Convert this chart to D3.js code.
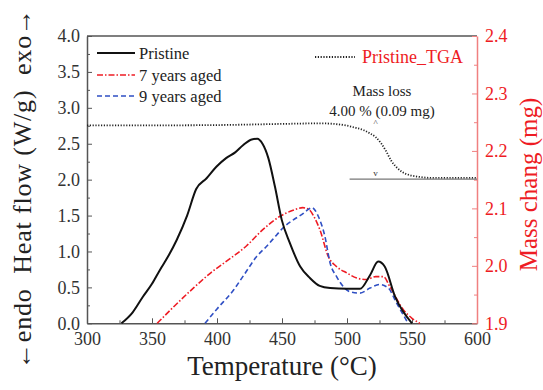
<!DOCTYPE html>
<html><head><meta charset="utf-8">
<script src="https://cdn.jsdelivr.net/npm/d3@7"></script>
<style>
body{margin:0;background:#fff;}
svg text{font-family:'Liberation Serif','Times New Roman','DejaVu Serif',serif !important;}
</style></head>
<body>
<svg id="c" width="543" height="390"></svg>
<script>
// ---- data ----
const pristineT = [326.5,335,343,350,356,363,369,377,384,392,399.5,407,414,420,426.7,431,435,439.5,444.6,449.8,456,464,471.5,479,487,500,510,517.7,524,529,537,550];
const pristineV = [0,0.15,0.37,0.55,0.74,0.95,1.16,1.5,1.87,2.02,2.18,2.30,2.38,2.48,2.56,2.57,2.5,2.3,1.9,1.44,1.12,0.79,0.63,0.52,0.49,0.48,0.48,0.67,0.86,0.79,0.37,0];
const aged7T = [354,365,381.8,395,410,422.8,435,448.5,458,466,471,475,479.2,485.6,492,500,507.5,515,522,528,533,543.3,550,556];
const aged7V = [0,0.2,0.49,0.7,0.9,1.08,1.3,1.49,1.57,1.61,1.58,1.47,1.30,0.93,0.79,0.70,0.63,0.61,0.65,0.65,0.51,0.19,0.07,0];
const aged9T = [390.8,400,412.6,421,430.5,438,445.9,452,458.7,466.4,470.5,473,477.9,483,487,492,502.3,510,517.7,525,531.8,538.2,547];
const aged9V = [0,0.2,0.46,0.68,0.93,1.07,1.23,1.35,1.44,1.53,1.59,1.61,1.49,1.21,0.84,0.65,0.44,0.42,0.49,0.54,0.49,0.28,0];
const tgaT = [300,350,400,450,480,490,500,507,513,518,522,526,530,534,538,542,548,555,565,600];
const tgaM = [2.2445,2.2445,2.245,2.247,2.248,2.247,2.244,2.240,2.236,2.230,2.224,2.214,2.200,2.183,2.172,2.164,2.158,2.155,2.153,2.153];
const massLossLineT = [502,600];
const massLossLevel = 2.151;
const markerT = 522;
const markerM = [2.247, 2.156];
const xTicks = [300,350,400,450,500,550,600];
const yTicks = [0,0.5,1.0,1.5,2.0,2.5,3.0,3.5,4.0];
const y2Ticks = [1.9,2.0,2.1,2.2,2.3,2.4];
const seriesNames = ["Pristine","7 years aged","9 years aged"];
const tgaName = "Pristine_TGA";

// ---- layout ----
const L=87, R=477, T=36, B=323.3;
const FONT = "'Liberation Serif','Times New Roman','DejaVu Serif',serif";
const svg = d3.select("#c").attr("font-family",FONT);
const x = d3.scaleLinear().domain([300,600]).range([L,R]);
const y = d3.scaleLinear().domain([0,4]).range([B,T]);
const y2 = d3.scaleLinear().domain([1.9,2.4]).range([B,T]);
const red="#ee1c24", blue="#2f4fc4", axisGray="#555";

const g = svg.append("g");
g.append("line").attr("x1",L).attr("x2",R).attr("y1",T).attr("y2",T).attr("stroke",axisGray).attr("stroke-width",1.5);

function styleAxis(sel,col,txtCol){
  sel.attr("font-family",FONT);
  sel.select(".domain").attr("stroke",col).attr("stroke-width",1.5);
  sel.selectAll(".tick line").attr("stroke",col).attr("stroke-width",1);
  sel.selectAll("text").attr("fill",txtCol).attr("font-size",18).attr("font-family",FONT);
}
const xMinor = d3.range(325,600,50);
const yMinor = d3.range(0.25,4,0.5);
const y2Minor = d3.range(1.95,2.4,0.1);
g.append("g").attr("transform",`translate(0,${B})`).call(d3.axisBottom(x).tickValues(xMinor).tickSize(-3).tickFormat("")).call(s=>{s.select(".domain").remove();s.selectAll("line").attr("stroke",axisGray);});
g.append("g").attr("transform",`translate(${L},0)`).call(d3.axisLeft(y).tickValues(yMinor).tickSize(-3).tickFormat("")).call(s=>{s.select(".domain").remove();s.selectAll("line").attr("stroke",axisGray);});
g.append("g").attr("transform",`translate(${R},0)`).call(d3.axisRight(y2).tickValues(y2Minor).tickSize(-3).tickFormat("")).call(s=>{s.select(".domain").remove();s.selectAll("line").attr("stroke","#f08080");});

const xa = g.append("g").attr("transform",`translate(0,${B})`).call(d3.axisBottom(x).tickValues(xTicks).tickSize(-5).tickSizeOuter(0).tickPadding(9).tickFormat(d3.format("d")));
styleAxis(xa,axisGray,"#333");
const ya = g.append("g").attr("transform",`translate(${L},0)`).call(d3.axisLeft(y).tickValues(yTicks).tickSize(-5).tickSizeOuter(0).tickPadding(7).tickFormat(d3.format(".1f")));
styleAxis(ya,axisGray,"#333");
const y2a = g.append("g").attr("transform",`translate(${R},0)`).call(d3.axisRight(y2).tickValues(y2Ticks).tickSize(-5).tickSizeOuter(0).tickPadding(8).tickFormat(d3.format(".1f")));
styleAxis(y2a,"#f08080",red);

svg.append("clipPath").attr("id","cp").append("rect").attr("x",L).attr("y",T).attr("width",R-L).attr("height",B-T+1);
const lineL = d3.line().x(d=>x(d[0])).y(d=>y(d[1])).curve(d3.curveMonotoneX);
const lineR = d3.line().x(d=>x(d[0])).y(d=>y2(d[1])).curve(d3.curveMonotoneX);
const plot = svg.append("g").attr("clip-path","url(#cp)");

plot.append("path").datum(d3.zip(tgaT,tgaM)).attr("d",lineR).attr("fill","none").attr("stroke","#222").attr("stroke-width",1.8).attr("stroke-dasharray","1.2,1.6");
plot.append("path").datum(d3.zip(aged7T,aged7V)).attr("d",lineL).attr("fill","none").attr("stroke",red).attr("stroke-width",1.6).attr("stroke-dasharray","6,2,1.5,2");
plot.append("path").datum(d3.zip(aged9T,aged9V)).attr("d",lineL).attr("fill","none").attr("stroke",blue).attr("stroke-width",1.6).attr("stroke-dasharray","5,3");
plot.append("path").datum(d3.zip(pristineT,pristineV)).attr("d",lineL).attr("fill","none").attr("stroke","#111").attr("stroke-width",2);

svg.append("line").attr("x1",x(massLossLineT[0])).attr("x2",x(massLossLineT[1])).attr("y1",y2(massLossLevel)).attr("y2",y2(massLossLevel)).attr("stroke","#777").attr("stroke-width",1.3);
svg.append("text").attr("x",x(markerT)).attr("y",y2(markerM[0])+2).attr("text-anchor","middle").attr("font-size",9).attr("fill","#333").text("^");
svg.append("text").attr("x",x(markerT)).attr("y",y2(markerM[1])).attr("text-anchor","middle").attr("font-size",9).attr("fill","#333").text("v");

svg.append("text").attr("x",382).attr("y",96).attr("text-anchor","middle").attr("font-size",15).attr("fill","#222").text("Mass loss");
svg.append("text").attr("x",382).attr("y",116).attr("text-anchor","middle").attr("font-size",15).attr("fill","#222").text("4.00 % (0.09 mg)");

const legY=[53,75,96];
const legStyles=[{c:"#111",d:null,w:2},{c:red,d:"6,2,1.5,2",w:1.6},{c:blue,d:"5,3",w:1.6}];
seriesNames.forEach((n,i)=>{
  const s=legStyles[i];
  svg.append("line").attr("x1",97).attr("x2",135).attr("y1",legY[i]).attr("y2",legY[i]).attr("stroke",s.c).attr("stroke-width",s.w).attr("stroke-dasharray",s.d);
  svg.append("text").attr("x",139).attr("y",legY[i]).attr("dy","0.35em").attr("font-size",16.5).attr("fill","#222").text(n);
});
svg.append("line").attr("x1",315).attr("x2",355).attr("y1",57).attr("y2",57).attr("stroke","#222").attr("stroke-width",1.8).attr("stroke-dasharray","1.2,1.6");
svg.append("text").attr("x",362).attr("y",57).attr("dy","0.35em").attr("font-size",18).attr("fill",red).text(tgaName);

svg.append("text").attr("x",(L+R)/2).attr("y",375).attr("text-anchor","middle").attr("font-size",27).attr("fill","#222").text("Temperature (°C)");
svg.append("text").attr("transform","translate(31,189) rotate(-90)").attr("text-anchor","middle").attr("font-size",26).attr("fill","#222").attr("xml:space","preserve").attr("textLength",360).attr("lengthAdjust","spacing").text("\u2190endo  Heat flow (W/g)  exo\u2192");
svg.append("text").attr("transform","translate(537,184.5) rotate(-90)").attr("text-anchor","middle").attr("font-size",25).attr("fill",red).text("Mass chang (mg)");
</script>
</body></html>
